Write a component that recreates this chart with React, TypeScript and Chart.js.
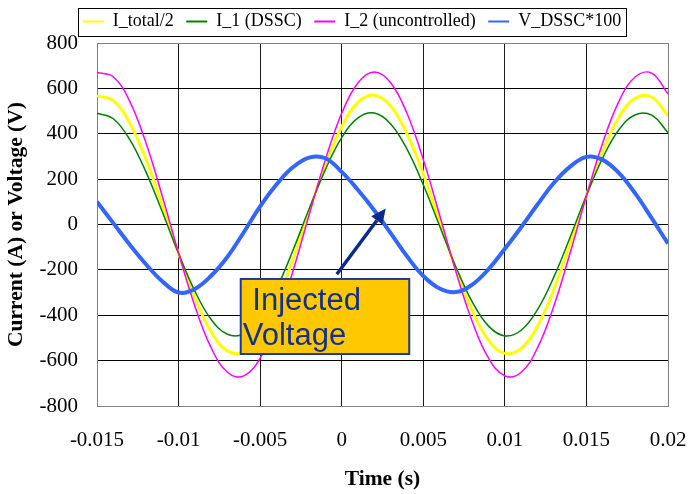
import React, { useEffect, useRef } from 'react';
import { Chart, registerables } from 'chart.js';

Chart.register(...registerables);

// ---- data ----
const timeS = [
  -0.015, -0.014, -0.013, -0.012, -0.011, -0.01, -0.009, -0.008, -0.007, -0.006,
  -0.005, -0.004, -0.003, -0.002, -0.001, 0, 0.001, 0.002, 0.003, 0.004,
  0.005, 0.006, 0.007, 0.008, 0.009, 0.01, 0.011, 0.012, 0.013, 0.014,
  0.015, 0.016, 0.017, 0.018, 0.019, 0.02,
];
const iTotalHalf = [
  568, 546, 448, 287, 86, -128, -323, -473, -557, -562,
  -489, -347, -156, 57, 262, 430, 538, 570, 522, 400,
  223, 14, -196, -380, -510, -568, -546, -448, -287, -86,
  128, 323, 473, 557, 562, 480,
];
const i1Dssc = [
  491, 466, 375, 232, 56, -128, -294, -419, -484, -482,
  -412, -284, -116, 68, 242, 383, 470, 491, 443, 332,
  175, -6, -187, -341, -448, -491, -466, -375, -232, -56,
  128, 294, 419, 484, 482, 405,
];
const i2Uncontrolled = [
  670, 651, 544, 360, 126, -126, -360, -544, -651, -667,
  -589, -428, -208, 42, 286, 490, 625, 672, 625, 490,
  286, 42, -208, -428, -589, -667, -651, -544, -360, -126,
  126, 360, 544, 651, 667, 575,
];
const vDsscX100 = [
  100, 6, -88, -175, -250, -300, -284, -226, -142, -34,
  80, 176, 252, 295, 292, 232, 152, 62, -38, -140,
  -227, -282, -298, -265, -197, -107, -12, 88, 183, 255,
  298, 285, 226, 136, 28, -84,
];

const seriesLabels = ['I_total/2', 'I_1 (DSSC)', 'I_2 (uncontrolled)', 'V_DSSC*100'];
const seriesValues = [iTotalHalf, i1Dssc, i2Uncontrolled, vDsscX100];

const xTicks = [-0.015, -0.01, -0.005, 0, 0.005, 0.01, 0.015, 0.02];
const xTickLabels = ['-0.015', '-0.01', '-0.005', '0', '0.005', '0.01', '0.015', '0.02'];
const yTicks = [-800, -600, -400, -200, 0, 200, 400, 600, 800];
const yTickLabels = ['-800', '-600', '-400', '-200', '0', '200', '400', '600', '800'];

// annotation (in data coordinates)
const annotationLines = [' Injected', 'Voltage'];
const annotationBox = { xMin: -0.00619, xMax: 0.00414, yTop: -240, yBottom: -571 };
const arrowFrom = { x: -0.0003, y: -219 };
const arrowTo = { x: 0.0027, y: 71 };

// ---- styles ----
const seriesColors = ['#FFFF00', '#008000', '#FF00FF', '#3366FF'];
const seriesWidths = [3, 1.5, 1.5, 4];
const seriesOrder = [3, 2, 1, 0];
const SERIF = '"Liberation Serif", "Times New Roman", Times, serif';
const SANS = '"Liberation Sans", Arial, Helvetica, sans-serif';
const EDGE = '#808080';

const legendPatch = {
  id: 'legendPatch',
  beforeLayout(chart: any) {
    const lg = chart.legend;
    if (lg && !lg.__patched) {
      const orig = lg.fit;
      lg.fit = function () {
        orig.call(this);
        this.height += 2.5;
      };
      lg.__patched = true;
    }
  },
  afterDraw(chart: any) {
    const boxes = chart.legend && chart.legend.legendHitBoxes;
    if (!boxes || !boxes.length) return;
    const ctx = chart.ctx;
    const l = Math.min(...boxes.map((b: any) => b.left)) - 5;
    const r = Math.max(...boxes.map((b: any) => b.left + b.width)) + 5;
    const t = Math.min(...boxes.map((b: any) => b.top)) - 4.5;
    const b = Math.max(...boxes.map((bx: any) => bx.top + bx.height)) + 5;
    ctx.save();
    ctx.strokeStyle = '#000';
    ctx.lineWidth = 1;
    ctx.strokeRect(Math.round(l) + 0.5, Math.round(t) + 0.5, Math.round(r - l), Math.round(b - t));
    ctx.restore();
  },
};

const annotationPlugin = {
  id: 'injectedVoltage',
  afterDatasetsDraw(chart: any) {
    const { ctx } = chart;
    const xs = chart.scales.x;
    const ys = chart.scales.y;
    ctx.save();
    // arrow
    const x1 = xs.getPixelForValue(arrowFrom.x);
    const y1 = ys.getPixelForValue(arrowFrom.y);
    const x2 = xs.getPixelForValue(arrowTo.x);
    const y2 = ys.getPixelForValue(arrowTo.y);
    const ang = Math.atan2(y2 - y1, x2 - x1);
    const headLen = 15;
    const headW = 7;
    const bx = x2 - headLen * Math.cos(ang);
    const by = y2 - headLen * Math.sin(ang);
    ctx.strokeStyle = '#0B2A8C';
    ctx.fillStyle = '#0B2A8C';
    ctx.lineWidth = 3.5;
    ctx.beginPath();
    ctx.moveTo(x1, y1);
    ctx.lineTo(bx, by);
    ctx.stroke();
    ctx.beginPath();
    ctx.moveTo(x2, y2);
    ctx.lineTo(bx + headW * Math.sin(ang), by - headW * Math.cos(ang));
    ctx.lineTo(bx - headW * Math.sin(ang), by + headW * Math.cos(ang));
    ctx.closePath();
    ctx.fill();
    // box
    const left = xs.getPixelForValue(annotationBox.xMin);
    const right = xs.getPixelForValue(annotationBox.xMax);
    const top = ys.getPixelForValue(annotationBox.yTop);
    const bottom = ys.getPixelForValue(annotationBox.yBottom);
    ctx.fillStyle = '#FFC800';
    ctx.fillRect(left, top, right - left, bottom - top);
    ctx.strokeStyle = '#1A3A9A';
    ctx.lineWidth = 2;
    ctx.strokeRect(left, top, right - left, bottom - top);
    ctx.fillStyle = '#14308F';
    ctx.font = '31px ' + SANS;
    ctx.textBaseline = 'alphabetic';
    ctx.textAlign = 'left';
    ctx.fillText(annotationLines[0], left + 3, top + 31);
    ctx.fillText(annotationLines[1], left + 2, top + 66.5);
    ctx.restore();
  },
};

export default function App() {
  const ref = useRef<HTMLCanvasElement | null>(null);

  useEffect(() => {
    if (!ref.current) return;
    const datasets = seriesLabels.map((label, k) => ({
      label,
      data: timeS.map((t, i) => ({ x: t, y: seriesValues[k][i] })),
      borderColor: seriesColors[k],
      backgroundColor: seriesColors[k],
      borderWidth: seriesWidths[k],
      pointRadius: 0,
      tension: 0.4,
      fill: false,
      order: seriesOrder[k],
    }));

    const chart = new Chart(ref.current, {
      type: 'line',
      data: { datasets },
      options: {
        responsive: false,
        animation: false,
        devicePixelRatio: 1,
        layout: { padding: { left: 13, right: 0, top: 0, bottom: 0 } },
        plugins: {
          legend: {
            display: true,
            position: 'top',
            align: 'center',
            labels: {
              font: { family: SERIF, size: 18 },
              color: '#000',
              boxWidth: 21,
              boxHeight: 2,
              padding: 12.5,
              sort: (a: any, b: any) => a.datasetIndex - b.datasetIndex,
              generateLabels: (c: any) =>
                (Chart.defaults.plugins.legend.labels.generateLabels as any)(c).map((it: any) => ({
                  ...it,
                  lineWidth: 0,
                  fillStyle: seriesColors[it.datasetIndex],
                })),
            },
          },
          tooltip: { enabled: false },
        },
        scales: {
          x: {
            type: 'linear',
            min: -0.015,
            max: 0.02,
            afterBuildTicks: (s: any) => {
              s.ticks = xTicks.map((v) => ({ value: v }));
            },
            afterFit: (s: any) => {
              s.height = 88;
              s.paddingRight = 23;
            },
            ticks: {
              autoSkip: false,
              maxRotation: 0,
              padding: 22,
              color: '#000',
              font: { family: SERIF, size: 21 },
              callback: (_v: any, i: number) => xTickLabels[i],
            },
            grid: {
              drawTicks: false,
              lineWidth: 1,
              color: (c: any) =>
                c.tick && (c.tick.value === 0.02 || c.tick.value === -0.015) ? EDGE : '#1a1a1a',
            },
            border: { color: EDGE, width: 1 },
            title: {
              display: true,
              text: 'Time (s)',
              color: '#000',
              font: { family: SERIF, size: 21.5, weight: 'bold' },
              padding: { top: 0, bottom: 2 },
            },
          },
          y: {
            type: 'linear',
            min: -800,
            max: 800,
            afterBuildTicks: (s: any) => {
              s.ticks = yTicks.map((v) => ({ value: v }));
            },
            afterFit: (s: any) => {
              s.width = 84;
            },
            ticks: {
              padding: 19,
              color: '#000',
              font: { family: SERIF, size: 21 },
              callback: (_v: any, i: number) => yTickLabels[i],
            },
            grid: {
              drawTicks: false,
              lineWidth: 1,
              color: (c: any) =>
                c.tick && (c.tick.value === 800 || c.tick.value === -800) ? EDGE : '#000',
            },
            border: { color: EDGE, width: 1 },
            title: {
              display: true,
              text: 'Current (A) or Voltage (V)',
              color: '#000',
              font: { family: SERIF, size: 21.5, weight: 'bold' },
              padding: { top: -9, bottom: 0 },
            },
          },
        },
      } as any,
      plugins: [legendPatch, annotationPlugin],
    });

    return () => chart.destroy();
  }, []);

  return (
    <div style={{ position: 'absolute', left: 0, top: 0, width: 691, height: 494, background: '#fff' }}>
      <canvas ref={ref} width={691} height={494} style={{ display: 'block' }} />
    </div>
  );
}
